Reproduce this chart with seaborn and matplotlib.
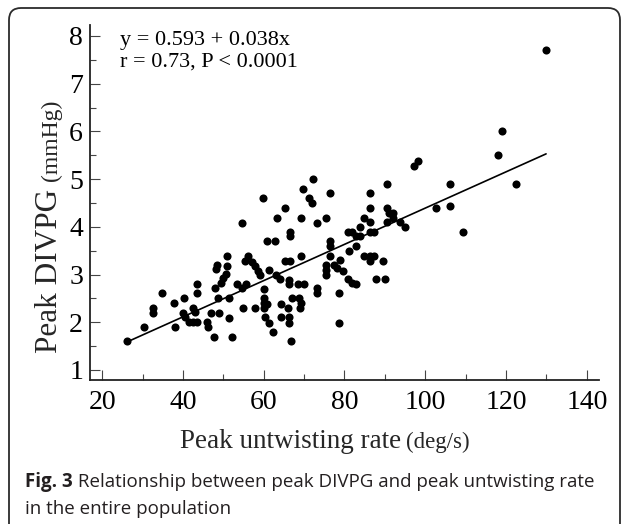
import numpy as np
import pandas as pd
import matplotlib
matplotlib.use("Agg")
import matplotlib.pyplot as plt
import seaborn as sns
from matplotlib.patches import FancyBboxPatch
from matplotlib.ticker import MultipleLocator, FixedLocator

# ---------------- data ----------------
x_rate = [26.1, 30.3, 32.5, 32.5, 34.8, 37.8, 38.1, 40.3, 40.1, 40.5,
          41.4, 42.6, 43.6, 42.4, 43.0, 43.6, 43.6, 45.9, 46.3, 47.8,
          46.9, 49.0, 48.5, 48.1, 50.9, 50.9, 50.7, 50.0, 49.4, 48.0,
          48.8, 51.3, 51.3, 52.1, 53.3, 54.9, 55.5, 54.6, 54.7, 55.3,
          56.2, 57.1, 57.9, 58.7, 59.1, 57.9, 59.8, 60.0, 60.0, 60.0,
          60.0, 60.9, 60.3, 61.2, 61.2, 60.9, 62.2, 62.8, 63.1, 63.2,
          64.2, 64.1, 64.4, 65.3, 65.3, 65.9, 66.2, 66.2, 66.2, 66.2,
          66.4, 66.4, 66.6, 66.8, 67.1, 68.8, 69.0, 69.2, 69.2, 69.2,
          69.8, 69.9, 71.2, 71.9, 72.2, 73.1, 73.1, 73.1, 75.4, 76.3,
          76.3, 76.3, 76.5, 75.4, 75.5, 75.4, 77.3, 78.1, 78.9, 79.7,
          80.8, 81.8, 82.9, 81.0, 80.8, 81.8, 82.9, 83.9, 82.9, 83.9,
          84.9, 84.9, 86.2, 87.3, 86.2, 89.5, 87.8, 90.0, 86.2, 87.3,
          86.2, 86.2, 86.2, 90.6, 90.6, 91.1, 92.0, 90.6, 92.0, 93.8,
          95.1, 97.2, 98.3, 102.7, 106.0, 106.0, 109.3, 117.9, 119.0, 122.5,
          129.9, 78.7, 78.7, 68.6]
y_divpg = [1.60, 1.90, 2.29, 2.20, 2.61, 2.40, 1.90, 2.50, 2.19, 2.10,
           2.01, 2.01, 2.01, 2.29, 2.22, 2.80, 2.61, 2.01, 1.91, 1.70,
           2.19, 2.19, 3.20, 3.11, 3.39, 3.18, 3.01, 2.92, 2.82, 2.71,
           2.50, 2.50, 2.09, 1.70, 2.80, 2.29, 2.80, 2.71, 4.09, 3.29,
           3.39, 3.27, 3.17, 3.07, 2.99, 2.29, 4.60, 2.70, 2.50, 2.40,
           2.29, 2.38, 2.10, 1.99, 3.10, 3.70, 1.80, 3.70, 2.99, 4.19,
           2.38, 2.90, 2.10, 4.39, 3.29, 2.29, 2.88, 2.80, 2.10, 1.99,
           3.90, 3.80, 3.29, 1.60, 2.50, 2.50, 2.29, 2.40, 4.19, 3.39,
           4.79, 2.80, 4.60, 4.50, 5.00, 4.09, 2.71, 2.61, 4.19, 4.70,
           3.70, 3.60, 3.39, 3.20, 3.10, 2.99, 3.20, 3.13, 3.31, 3.08,
           2.90, 2.82, 2.80, 3.50, 3.90, 3.90, 3.80, 3.80, 3.60, 4.00,
           4.19, 3.39, 3.39, 3.39, 3.29, 3.29, 2.90, 2.90, 3.90, 3.90,
           4.11, 4.39, 4.70, 4.89, 4.39, 4.28, 4.28, 4.11, 4.18, 4.11,
           4.00, 5.28, 5.38, 4.39, 4.89, 4.44, 3.90, 5.51, 6.01, 4.89,
           7.71, 2.61, 1.99, 2.80]

fit_intercept = 0.593
fit_slope = 0.038
eq_text = "y = 0.593 + 0.038x"
stat_text = "r = 0.73, P < 0.0001"

x_ticks = [20, 40, 60, 80, 100, 120, 140]
y_ticks = [1, 2, 3, 4, 5, 6, 7, 8]

xlabel_main = "Peak untwisting rate "
xlabel_unit = "(deg/s)"
ylabel_main = "Peak DIVPG "
ylabel_unit = "(mmHg)"

caption_bold = "Fig. 3"
caption_rest = " Relationship between peak DIVPG and peak untwisting rate"
caption_line2 = "in the entire population"

# ---------------- figure ----------------
sns.set_theme(style="ticks")
plt.rcParams['font.family'] = ['Liberation Serif', 'DejaVu Serif']

W, H = 627, 524
fig = plt.figure(figsize=(W / 100, H / 100), dpi=100)
fig.patch.set_facecolor("white")

# rounded frame around the figure
frame = FancyBboxPatch((9 / 100, -0.3), (620 - 9) / 100, (H - 8) / 100 + 0.3,
                       boxstyle="round,pad=0,rounding_size=0.12",
                       transform=fig.dpi_scale_trans, facecolor="none",
                       edgecolor="#2b2b2b", linewidth=1.3, zorder=-1)
fig.patches.append(frame)

ax = fig.add_axes([90 / W, 1 - 380 / H, (599 - 90) / W, (380 - 25) / H])
ax.set_facecolor("none")

df = pd.DataFrame({"rate": x_rate, "divpg": y_divpg})
sns.scatterplot(data=df, x="rate", y="divpg", ax=ax, color="black",
                s=34, linewidth=0, zorder=3)

line_x = np.array([min(x_rate), max(x_rate)])
line_df = pd.DataFrame({"rate": line_x,
                        "divpg": fit_intercept + fit_slope * line_x})
sns.lineplot(data=line_df, x="rate", y="divpg", ax=ax, color="black",
             linewidth=1.2, zorder=2)

ax.set_xlim(17.0, 143.0)
ax.set_ylim(0.79, 8.23)
ax.xaxis.set_major_locator(FixedLocator(x_ticks))
ax.yaxis.set_major_locator(FixedLocator(y_ticks))
ax.xaxis.set_minor_locator(MultipleLocator(10))
ax.yaxis.set_minor_locator(MultipleLocator(0.5))
ax.set_xticklabels([str(t) for t in x_ticks])
ax.set_yticklabels([str(t) for t in y_ticks])
ax.set_xlabel("")
ax.set_ylabel("")

for side in ["top", "right"]:
    ax.spines[side].set_visible(False)
for side in ["left", "bottom"]:
    ax.spines[side].set_linewidth(1.3)
    ax.spines[side].set_color("#222222")

ax.tick_params(axis="both", which="major", direction="in", length=7,
               width=0.8, color="#444444", labelsize=20, labelcolor="black")
ax.tick_params(axis="both", which="minor", direction="in", length=4,
               width=0.8, color="#444444")
ax.tick_params(axis="x", which="major", pad=7)
ax.tick_params(axis="y", which="major", pad=5)

# equation text
fig.text(120 / W, 1 - 45 / H, eq_text, fontsize=16, ha="left",
         va="baseline", color="black")
fig.text(120 / W, 1 - 67 / H, stat_text, fontsize=16, ha="left",
         va="baseline", color="black")

fig.canvas.draw()
renderer = fig.canvas.get_renderer()

# x label (two sizes on one baseline)
xl1 = fig.text(180 / W, 1 - 448 / H, xlabel_main, fontsize=19.5,
               ha="left", va="baseline")
bb = xl1.get_window_extent(renderer)
fig.text(bb.x1 / W - 2 / W, 1 - 448 / H, xlabel_unit, fontsize=16.5,
         ha="left", va="baseline")

# y label (rotated, two sizes)
yl1 = fig.text(57 / W, 1 - 353 / H, ylabel_main, fontsize=22.5,
               rotation=90, rotation_mode="anchor", ha="left", va="baseline")
bb = yl1.get_window_extent(renderer)
fig.text(57 / W, bb.y1 / H, ylabel_unit, fontsize=17,
         rotation=90, rotation_mode="anchor", ha="left", va="baseline")

# caption
cap_font = ["Open Sans", "DejaVu Sans"]
c1 = fig.text(25 / W, 1 - 487 / H, caption_bold, fontsize=13.5,
              fontweight="bold", family=cap_font, color="#231f20",
              ha="left", va="baseline")
bb = c1.get_window_extent(renderer)
fig.text(bb.x1 / W, 1 - 487 / H, caption_rest, fontsize=13.5,
         family=cap_font, color="#231f20", ha="left", va="baseline")
fig.text(25 / W, 1 - 514 / H, caption_line2, fontsize=13.5,
         family=cap_font, color="#231f20", ha="left", va="baseline")

fig.savefig("out.png", dpi=100, facecolor="white")
